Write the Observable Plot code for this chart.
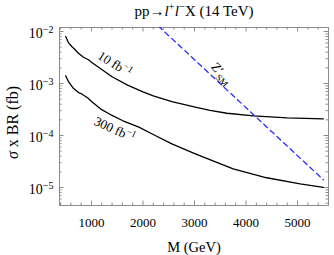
<!DOCTYPE html>
<html>
<head>
<meta charset="utf-8">
<script src="https://cdn.jsdelivr.net/npm/d3@7"></script>
<script src="https://cdn.jsdelivr.net/npm/@observablehq/plot@0.6"></script>
<style>
  html, body { margin: 0; padding: 0; background: #fff; }
</style>
</head>
<body>
<div id="chart"></div>
<script>
// ---- data ----
const mass10 = [500, 554, 618, 684, 748, 845, 942, 1000, 1200, 1400, 1700, 2000, 2200, 2560, 3016, 3300, 3630, 4145, 4800, 5500];
const sigma10 = [8.0e-3, 6.1e-3, 5.15e-3, 4.45e-3, 3.83e-3, 3.2e-3, 2.86e-3, 2.57e-3, 1.86e-3, 1.35e-3, 9.3e-4, 6.9e-4, 5.8e-4, 4.5e-4, 3.5e-4, 3.05e-4, 2.68e-4, 2.39e-4, 2.19e-4, 2.09e-4];

const mass300 = [500, 554, 650, 750, 812, 930, 1014, 1174, 1400, 1600, 1920, 2180, 2560, 3016, 3750, 4400, 5050, 5500];
const sigma300 = [1.4e-3, 1.09e-3, 8.1e-4, 6.7e-4, 6.3e-4, 5.25e-4, 4.4e-4, 3.26e-4, 2.43e-4, 1.94e-4, 1.45e-4, 1.07e-4, 6.9e-5, 4.45e-5, 2.29e-5, 1.54e-5, 1.18e-5, 1.01e-5];

const massZ = [2300, 5500];
const sigmaZ = [1.27e-2, 1.41e-5];

// tick values and labels
const xMajor = [1000, 2000, 3000, 4000, 5000];
const xMinor = [400, 600, 800, 1200, 1400, 1600, 1800, 2200, 2400, 2600, 2800, 3200, 3400, 3600, 3800, 4200, 4400, 4600, 4800, 5200, 5400];
const yMajor = [1e-2, 1e-3, 1e-4, 1e-5];
const yTickLabels = ["10<sup>−2</sup>", "10<sup>−3</sup>", "10<sup>−4</sup>", "10<sup>−5</sup>"];
const yMinorMult = [2, 3, 4, 5, 6, 7, 8, 9];
const yDecades = [1e-6, 1e-5, 1e-4, 1e-3];

// texts
const titleText = "pp→<i>l</i><sup>+</sup><i>l</i><sup>−</sup>X (14 TeV)";
const xLabel = "M (GeV)";
const yLabel = "<i>σ</i> x BR (fb)";
const curveLabels = [
  {m: 1450, s: 2.35e-3, text: "10 fb<sup>−1</sup>", rotate: 32},
  {m: 1450, s: 1.30e-4, text: "300 fb<sup>−1</sup>", rotate: 25},
  {m: 3530, s: 1.56e-3, text: "Z′<sub>SM</sub>", rotate: 48}
];

// ---- build ----
const W = 334, H = 255;
const mL = 59, mR = 6, mT = 27, mB = 50;
const FW = W - mL - mR, FH = H - mT - mB;
const yDomain = [Math.pow(10, -5.346), Math.pow(10, -1.923)];
const yMinor = yDecades.flatMap(d => yMinorMult.map(k => k * d)).filter(v => v >= yDomain[0] && v <= yDomain[1]);

const frameColor = "#8c8c8c";
const majLen = 4.5, minLen = 2.5;

const d10 = mass10.map((m, i) => ({m, s: sigma10[i]}));
const d300 = mass300.map((m, i) => ({m, s: sigma300[i]}));
const dZ = massZ.map((m, i) => ({m, s: sigmaZ[i]}));

const plot = Plot.plot({
  width: W, height: H,
  marginLeft: mL, marginRight: mR, marginTop: mT, marginBottom: mB,
  style: {fontFamily: "'Liberation Serif', 'Times New Roman', serif", fontSize: "13px", background: "#fff", color: "#000"},
  x: {type: "linear", domain: [380, 5600]},
  y: {type: "log", domain: yDomain},
  marks: [
    // ticks (inward) on all four sides
    Plot.tickX(xMajor, {x: d => d, insetTop: FH - majLen, stroke: frameColor}),
    Plot.tickX(xMinor, {x: d => d, insetTop: FH - minLen, stroke: frameColor}),
    Plot.tickX(xMajor, {x: d => d, insetBottom: FH - majLen, stroke: frameColor}),
    Plot.tickX(xMinor, {x: d => d, insetBottom: FH - minLen, stroke: frameColor}),
    Plot.tickY(yMajor, {y: d => d, insetRight: FW - majLen, stroke: frameColor}),
    Plot.tickY(yMinor, {y: d => d, insetRight: FW - minLen, stroke: frameColor}),
    Plot.tickY(yMajor, {y: d => d, insetLeft: FW - majLen, stroke: frameColor}),
    Plot.tickY(yMinor, {y: d => d, insetLeft: FW - minLen, stroke: frameColor}),
    Plot.frame({stroke: frameColor, strokeWidth: 1}),
    // tick labels
    Plot.axisX({ticks: xMajor, tickSize: 0, tickPadding: 12, tickFormat: d => String(d), fontSize: 13, label: null}),
    Plot.axisY({ticks: yMajor, tickSize: 0, tickPadding: 6, dy: 2.5, tickFormat: d => yTickLabels[yMajor.indexOf(d)], fontSize: 14, label: null}),
    // curves
    Plot.line(d10, {x: "m", y: "s", stroke: "#000", strokeWidth: 1.3}),
    Plot.line(d300, {x: "m", y: "s", stroke: "#000", strokeWidth: 1.3}),
    Plot.line(dZ, {x: "m", y: "s", stroke: "#2a2aff", strokeWidth: 1.3, strokeDasharray: "5,4", clip: true}),
    // curve labels
    Plot.text(curveLabels, {x: "m", y: "s", text: "text", rotate: "rotate", fontSize: 13, fill: "#000"}),
    // titles
    Plot.text([titleText], {frameAnchor: "top", lineAnchor: "bottom", dy: -12, fontSize: 15, fill: "#000"}),
    Plot.text([xLabel], {frameAnchor: "bottom", lineAnchor: "bottom", dy: 46.5, fontSize: 14.5, fill: "#000"}),
    Plot.text([yLabel], {frameAnchor: "left", textAnchor: "middle", dx: -47, dy: 6, rotate: -90, fontSize: 16, fill: "#000"})
  ]
});

document.getElementById("chart").appendChild(plot);

// rich-text post-processing: <i>, <sup>, <sub>
const NS = "http://www.w3.org/2000/svg";
plot.querySelectorAll("text").forEach(el => {
  const s = el.textContent;
  if (!s.includes("<")) return;
  const fs = parseFloat(getComputedStyle(el).fontSize) || 13;
  const anchor = getComputedStyle(el).textAnchor;
  const before = el.getBBox();
  el.textContent = "";
  let shift = 0;
  const re = /<(i|sup|sub)>(.*?)<\/\1>|([^<]+)/g;
  for (const m of s.matchAll(re)) {
    const t = document.createElementNS(NS, "tspan");
    let target = 0;
    if (m[1] === "sup") { target = -0.4 * fs; t.setAttribute("font-size", 0.72 * fs); }
    else if (m[1] === "sub") { target = 0.28 * fs; t.setAttribute("font-size", 0.72 * fs); }
    else if (m[1] === "i") { t.setAttribute("font-style", "italic"); }
    if (target !== shift) { t.setAttribute("dy", target - shift); shift = target; }
    t.textContent = m[1] ? m[2] : m[3];
    el.appendChild(t);
  }
  // keep the anchor point where it was meant to be
  const after = el.getBBox();
  let r0, r1;
  if (anchor === "middle") { r0 = before.x + before.width / 2; r1 = after.x + after.width / 2; }
  else if (anchor === "end") { r0 = before.x + before.width; r1 = after.x + after.width; }
  else { r0 = before.x; r1 = after.x; }
  const d = r0 - r1;
  if (Math.abs(d) > 0.5 && el.firstChild) el.firstChild.setAttribute("dx", d);
});
</script>
</body>
</html>
